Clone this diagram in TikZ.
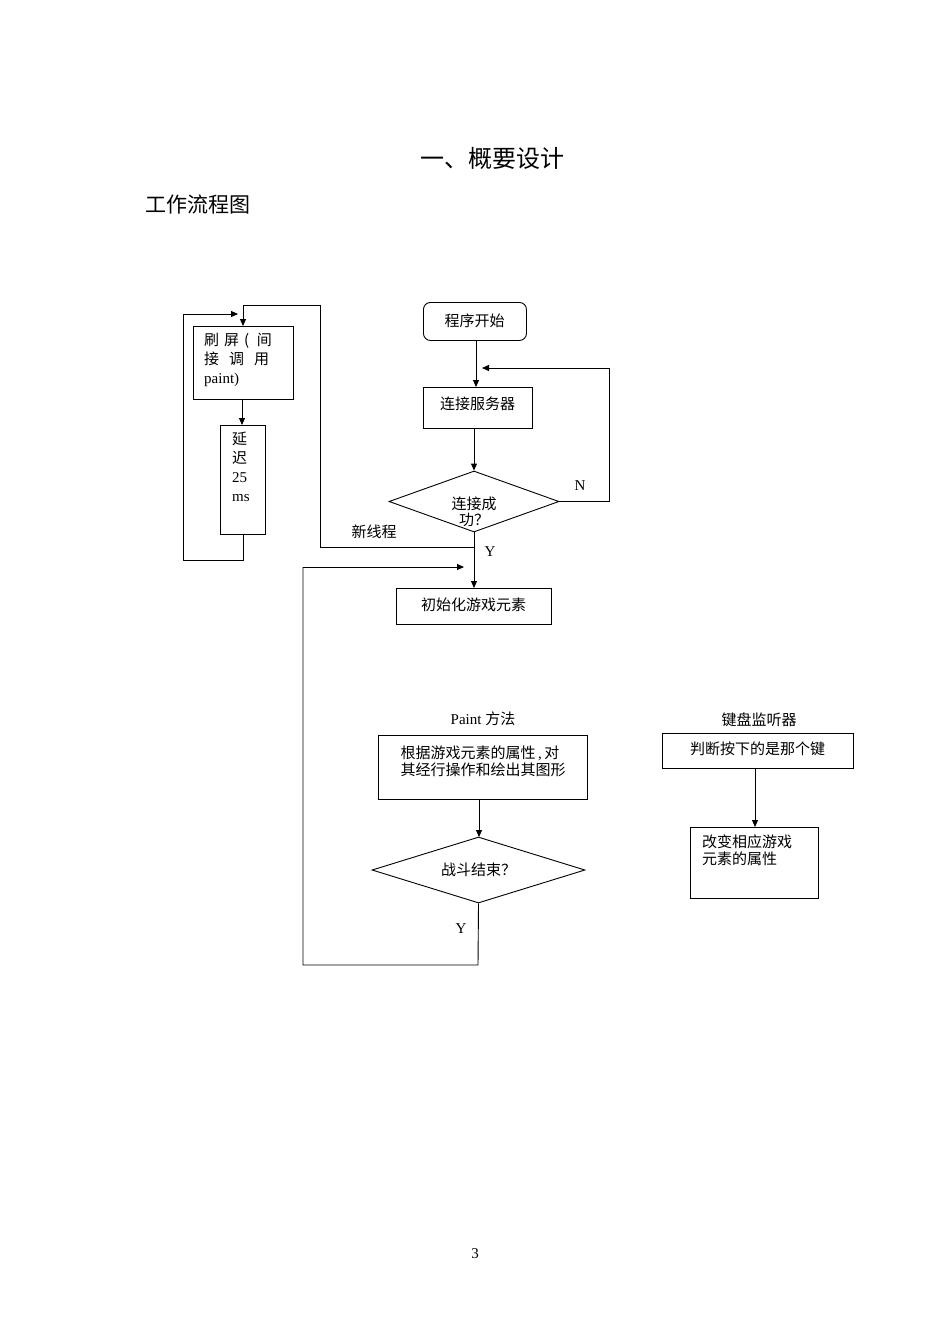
\documentclass[tikz,border=0pt]{standalone}
\usepackage{fontspec}
\setmainfont{Liberation Serif}
\newfontfamily\cjk{Noto Sans CJK SC}
\usetikzlibrary{shapes.geometric,arrows.meta}
\begin{document}
\begin{tikzpicture}[x=1pt,y=-1pt,
  every node/.style={font=\fontsize{15}{18}\selectfont},
  box/.style={draw,line width=0.9pt,rectangle,inner sep=0pt,anchor=north west},
  dia/.style={draw,line width=0.9pt,diamond,inner sep=0pt,aspect=2.8},
  lab/.style={inner sep=0pt},
  ln/.style={line width=0.9pt},
  ar/.style={line width=0.9pt,-{Triangle[length=7pt,width=6pt]}}]
\useasboundingbox (0,0) rectangle (950,1344);
\fill[white] (0,0) rectangle (950,1344);
\node[lab] (title) at (492,158) {\fontsize{24}{28}\selectfont\cjk 一、概要设计};
\node[lab,anchor=west] (sub) at (145,205) {\fontsize{21}{26}\selectfont\cjk 工作流程图};
% left loop
\node[box,minimum width=100pt,minimum height=73pt] (shua) at (193,326) {};
\node[lab,anchor=north west,align=left] (shuat) at (204,333) {{\cjk 刷\,\,屏\,\,(\,\,\,间}\\[1pt]{\cjk 接\,\,\,\,调\,\,\,\,用}\\[1pt]paint)};
\node[box,minimum width=45pt,minimum height=109pt] (yan) at (220,425) {};
\node[lab,anchor=north west,align=left] (yant) at (232,432) {{\cjk 延}\\[1pt]{\cjk 迟}\\[1pt]25\\[1pt]ms};
\draw[ar] (242,399) -- (yan.north -| 242,0);
\coordinate (l1) at (243,560);
\coordinate (l2) at (183,560);
\coordinate (l3) at (183,314);
\coordinate (l4) at (238,314);
\draw[ln] (yan.south -| 243,0) -- (l1) -- (l2) -- (l3);
\draw[ar] (l3) -- (l4);
% center
\node[box,rounded corners=7pt,minimum width=103pt,minimum height=38pt] (start) at (423,302) {};
\node[lab] (startt) at (474.5,321) {\cjk 程序开始};
\node[box,minimum width=109pt,minimum height=41pt] (conn) at (423,387) {};
\node[lab] (connt) at (477.5,404) {\cjk 连接服务器};
\draw[ar] (476,340) -- (476,387);
\node[dia,minimum width=170pt,minimum height=61pt] (ok) at (474,501.5) {};
\node[lab,align=center] (okt) at (474,512) {\cjk 连接成\\[-2pt]\cjk 功？};
\draw[ar] (474,428) -- (ok.north);
\coordinate (n1) at (609,501.5);
\coordinate (n2) at (609,368);
\coordinate (n3) at (482,368);
\draw[ln] (ok.east) -- (n1) -- (n2);
\draw[ar] (n2) -- (n3);
\node[lab] (N) at (580,486) {N};
\node[box,minimum width=155pt,minimum height=36pt] (init) at (396,588) {};
\node[lab] (initt) at (473.5,605) {\cjk 初始化游戏元素};
\draw[ar] (ok.south) -- (474,588);
\node[lab] (Y1) at (490,552) {Y};
\node[lab] (nt) at (374,532) {\cjk 新线程};
\coordinate (t1) at (474,547);
\coordinate (t2) at (320,547);
\coordinate (t3) at (320,305);
\coordinate (t4) at (243,305);
\draw[ln] (t1) -- (t2) -- (t3) -- (t4);
\draw[ar] (t4) -- (shua.north -| 243,0);
% paint
\node[lab] (pl) at (483,719) {Paint {\cjk 方法}};
\node[box,minimum width=209pt,minimum height=64pt] (paint) at (378,735) {};
\node[lab,align=left] (paintt) at (483,761) {{\cjk 根据游戏元素的属性}\,,\,{\cjk 对}\\[-1pt]{\cjk 其经行操作和绘出其图形}};
\node[dia,minimum width=213pt,minimum height=66pt] (end) at (478.5,870) {};
\node[lab] (endt) at (478.5,870) {\cjk 战斗结束？};
\draw[ar] (479,799) -- (479,837);
\coordinate (r1) at (478,965);
\coordinate (r2) at (303,965);
\coordinate (r3) at (303,567);
\coordinate (r4) at (464,567);
\draw[ln] (end.south) -- (r1) -- (r2) -- (r3);
\draw[ar] (r3) -- (r4);
\node[lab] (Y2) at (461,929) {Y};
% keyboard
\node[lab] (kl) at (759,720) {\cjk 键盘监听器};
\node[box,minimum width=191pt,minimum height=35pt] (key) at (662,733) {};
\node[lab] (keyt) at (757.5,749) {\cjk 判断按下的是那个键};
\node[box,minimum width=128pt,minimum height=71pt] (chg) at (690,827) {};
\node[lab,anchor=north west,align=left] (chgt) at (702,835) {\cjk 改变相应游戏\\[-1pt]\cjk 元素的属性};
\draw[ar] (755,768) -- (755,827);
\node[lab] (pg) at (475,1254) {3};
\end{tikzpicture}
\end{document}
